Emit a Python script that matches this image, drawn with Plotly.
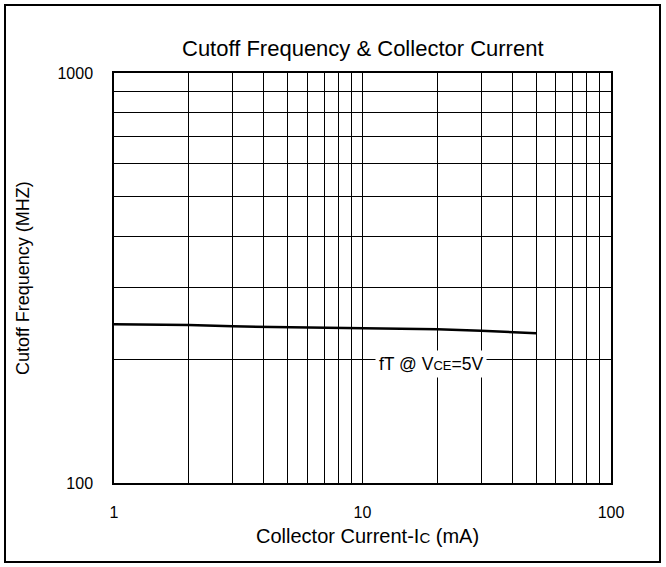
import plotly.graph_objects as go

# Data
collector_current_ma = [1, 2, 3, 6, 10, 20, 30, 40, 50]
cutoff_freq_mhz = [244, 243, 241, 239.5, 239, 237, 235, 233.5, 232]

x_grid_vals = [1, 2, 3, 4, 5, 6, 7, 8, 9, 10, 20, 30, 40, 50, 60, 70, 80, 90, 100]
x_tick_text = ["1"] + [""] * 8 + ["10"] + [""] * 8 + ["100"]
y_grid_vals = [100, 200, 300, 400, 500, 600, 700, 800, 900, 1000]
y_tick_text = ["100"] + [""] * 8 + ["1000"]

FONT = "Liberation Sans, Arial, sans-serif"

fig = go.Figure()
fig.add_trace(go.Scatter(
    x=collector_current_ma, y=cutoff_freq_mhz, mode="lines",
    line=dict(color="black", width=2.5), showlegend=False, hoverinfo="skip"))

fig.update_layout(
    width=666, height=567,
    margin=dict(l=114, r=55, t=73, b=84),
    paper_bgcolor="white", plot_bgcolor="white",
    font=dict(family=FONT, size=16, color="black"),
    xaxis=dict(type="log", range=[0, 2], tickvals=x_grid_vals, ticktext=x_tick_text,
               showgrid=True, gridcolor="black", gridwidth=1,
               showline=True, linecolor="black", linewidth=1.5, mirror=True,
               ticks="", ticklabelstandoff=14, zeroline=False,
               tickfont=dict(family=FONT, size=16)),
    yaxis=dict(type="log", range=[2, 3], tickvals=y_grid_vals, ticktext=y_tick_text,
               showgrid=True, gridcolor="black", gridwidth=1,
               showline=True, linecolor="black", linewidth=1.5, mirror=True,
               ticks="", ticklabelstandoff=16, zeroline=False,
               tickfont=dict(family=FONT, size=16)),
)

# Outer border
fig.add_shape(type="rect", xref="paper", yref="paper",
              x0=(5 - 114) / 497, x1=(660 - 114) / 497,
              y0=(483 - 562) / 410, y1=(483 - 5) / 410,
              line=dict(color="black", width=2), layer="below")

# Title
fig.add_annotation(text="Cutoff Frequency &amp; Collector Current",
                   xref="paper", yref="paper", x=0.5, y=(483 - 49) / 410,
                   showarrow=False, font=dict(family=FONT, size=22),
                   xanchor="center", yanchor="middle")
# X title
fig.add_annotation(text="Collector Current-I<span style='font-size:15px'>C</span> (mA)",
                   xref="paper", yref="paper", x=0.51, y=(483 - 536) / 410,
                   showarrow=False, font=dict(family=FONT, size=20),
                   xanchor="center", yanchor="middle")
# Y title
fig.add_annotation(text="Cutoff Frequency (MHZ)",
                   xref="paper", yref="paper", x=(23 - 114) / 497, y=0.5,
                   textangle=-90, showarrow=False, font=dict(family=FONT, size=18),
                   xanchor="center", yanchor="middle")
# Series label
fig.add_annotation(text="fT @ V<span style='font-size:13px'>CE</span>=5V",
                   x=1.275, y=2.29, xref="x", yref="y",
                   showarrow=False, bgcolor="white", font=dict(family=FONT, size=17.5),
                   xanchor="center", yanchor="middle", borderpad=3)

fig.write_html("out.html", config={"displayModeBar": False},
               post_script="document.body.style.margin='0px';")
